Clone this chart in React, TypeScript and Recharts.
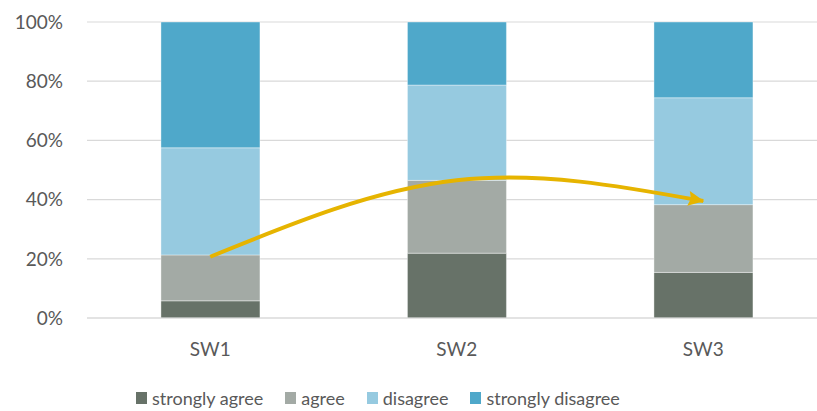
import { ComposedChart, Bar, Line, XAxis, YAxis, CartesianGrid, Legend } from 'recharts'

const categories = ['SW1', 'SW2', 'SW3']
const stronglyAgree = [5.8, 21.9, 15.4]
const agree = [15.5, 24.6, 22.9]
const disagree = [36.2, 32.2, 36.1]
const stronglyDisagree = [42.5, 21.3, 25.6]
// yellow trend arrow (% position)
const trend = [20.7, 46.5, 39.5]
const yTicks = [0, 20, 40, 60, 80, 100]

const series = [
  { key: 'sa', name: 'strongly agree', color: '#677268' },
  { key: 'a', name: 'agree', color: '#A3AAA5' },
  { key: 'd', name: 'disagree', color: '#96CAE0' },
  { key: 'sd', name: 'strongly disagree', color: '#4FA8CA' },
]

const data = categories.map((c, i) => ({
  name: c,
  sa: stronglyAgree[i],
  a: agree[i],
  d: disagree[i],
  sd: stronglyDisagree[i],
  trend: trend[i],
}))

const font = 'Lato, "Open Sans", sans-serif'
const textColor = '#595959'

function LegendContent() {
  return (
    <div style={{ display: 'flex', alignItems: 'center', height: 24, paddingLeft: 136, fontFamily: font, fontSize: 18, color: textColor }}>
      {series.map(s => (
        <div key={s.key} style={{ display: 'flex', alignItems: 'center', marginRight: 22 }}>
          <span style={{ display: 'inline-block', width: 11, height: 12, background: s.color, marginRight: 5 }} />
          <span>{s.name}</span>
        </div>
      ))}
    </div>
  )
}

export default function App() {
  return (
    <div style={{ position: 'absolute', left: 0, top: 0, width: 817, height: 411, overflow: 'hidden', background: '#fff', fontFamily: font }}>
      <ComposedChart width={830} height={411} data={data} margin={{ top: 22, right: 3.5, left: 0, bottom: 39 }} barCategoryGap="30%">
        <defs>
          <marker id="arrowHead" markerUnits="userSpaceOnUse" markerWidth={18} markerHeight={16} refX={15} refY={7.5} orient="auto" style={{ overflow: 'visible' }}>
            <path d="M0,0 L16,7.5 L0,15 L2.5,7.5 z" fill="#E6B400" />
          </marker>
        </defs>
        <CartesianGrid vertical={false} stroke="#D9D9D9" strokeWidth={1.2} />
        <XAxis
          dataKey="name"
          axisLine={{ stroke: '#D9D9D9', strokeWidth: 1.2 }}
          tickLine={false}
          tickSize={0}
          tickMargin={25}
          tick={{ fill: textColor, fontSize: 19, fontFamily: font }}
        />
        <YAxis
          width={87}
          domain={[0, 100]}
          ticks={yTicks}
          tickFormatter={v => `${v}%`}
          axisLine={false}
          tickLine={false}
          tickSize={0}
          tickMargin={24}
          tick={{ fill: textColor, fontSize: 19, fontFamily: font }}
        />
        <Legend verticalAlign="bottom" content={<LegendContent />} wrapperStyle={{ left: 0, top: 386, width: 817 }} />
        {series.map(s => (
          <Bar key={s.key} dataKey={s.key} name={s.name} stackId="s" fill={s.color} stroke="#ffffff" strokeOpacity={0.5} strokeWidth={0.75} isAnimationActive={false} />
        ))}
        <Line
          dataKey="trend"
          type="natural"
          stroke="#E6B400"
          strokeWidth={4}
          dot={false}
          activeDot={false}
          legendType="none"
          markerEnd="url(#arrowHead)"
          isAnimationActive={false}
        />
      </ComposedChart>
    </div>
  )
}
